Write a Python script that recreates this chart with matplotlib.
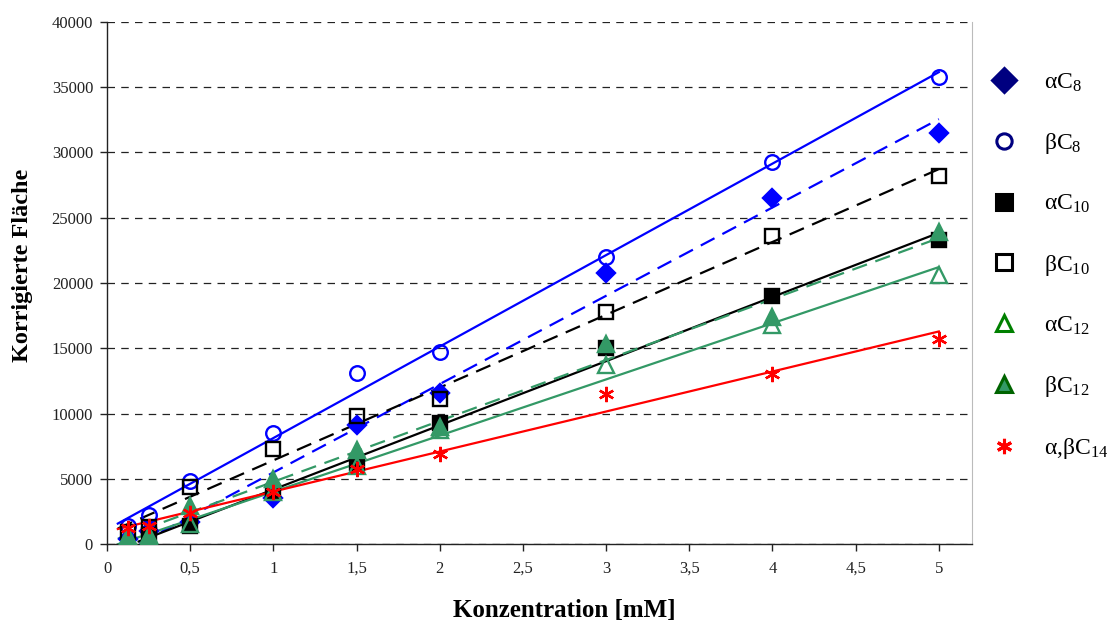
import numpy as np
import matplotlib
matplotlib.use("Agg")
import matplotlib.pyplot as plt
from matplotlib.lines import Line2D
from matplotlib.ticker import FuncFormatter, MultipleLocator

plt.rcParams['font.family'] = ['Liberation Serif', 'DejaVu Serif']
plt.rcParams['mathtext.fontset'] = 'custom'
plt.rcParams['mathtext.rm'] = 'Liberation Serif'
plt.rcParams['mathtext.it'] = 'Liberation Serif:italic'
plt.rcParams['mathtext.bf'] = 'Liberation Serif:bold'

conc = [0.125, 0.25, 0.5, 1, 1.5, 2, 3, 4, 5]
aC8 = [350, 1000, 1700, 3500, 9100, 11600, 20800, 26500, 31500]
bC8 = [1380, 2200, 4800, 8500, 13100, 14700, 22000, 29300, 35800]
aC10 = [np.nan, 700, 1400, 4000, 6200, 9300, 15000, 19000, 23300]
bC10 = [900, 1300, 4400, 7300, 9800, 11100, 17800, 23600, 28200]
aC12 = [300, 500, 1500, 4000, 6000, 8700, 13700, 16800, 20600]
bC12 = [600, 700, 2900, 5000, 7200, 9000, 15300, 17400, 23900]
abC14 = [1200, 1400, 2400, 4000, 5750, 6900, 11500, 13000, 15700]

labels = [r"αC$_{\mathrm{8}}$", r"βC$_{\mathrm{8}}$", r"αC$_{\mathrm{10}}$", r"βC$_{\mathrm{10}}$",
          r"αC$_{\mathrm{12}}$", r"βC$_{\mathrm{12}}$", r"α,βC$_{\mathrm{14}}$"]
yticks = [0, 5000, 10000, 15000, 20000, 25000, 30000, 35000, 40000]

seagreen = '#339966'
dash = (0, (7, 4))
series = [
    # data, marker, plot face, plot edge, line color, line style, legend face, legend edge, ms, legend ms
    (aC8, 'D', '#0000FF', '#0000FF', '#0000FF', dash, '#000080', '#000080', 9, 12),
    (bC8, 'o', 'none', '#0000FF', '#0000FF', '-', 'none', '#000080', 10.5, 11),
    (aC10, 's', '#000000', '#000000', '#000000', '-', '#000000', '#000000', 10.5, 11),
    (bC10, 's', 'none', '#000000', '#000000', dash, 'none', '#000000', 10.5, 11),
    (aC12, '^', 'none', seagreen, seagreen, '-', 'none', '#008000', 11, 12),
    (bC12, '^', seagreen, seagreen, seagreen, dash, seagreen, '#006400', 11, 12),
    (abC14, (6, 2, 0), '#FF0000', '#FF0000', '#FF0000', '-', '#FF0000', '#FF0000', 11, 11),
]

fig = plt.figure(figsize=(11.17, 6.23), dpi=100)
ax = fig.add_axes([0.0958, 0.1268, 0.7745, 0.8379])

x = np.array(conc, dtype=float)
handles = []
for data, mk, fc, ec, lc, ls, lfc, lec, ms, lms in series:
    y = np.array(data, dtype=float)
    m = ~np.isnan(y)
    k, b = np.polyfit(x[m], y[m], 1)
    xs = np.array([x[m].min() - 0.06, x[m].max()])
    ax.plot(xs, k * xs + b, color=lc, linestyle=ls, lw=1.6, zorder=2)
    ax.plot(x[m], y[m], linestyle='none', marker=mk, ms=ms, markerfacecolor=fc,
            markeredgecolor=ec, markeredgewidth=1.7, zorder=3)
    handles.append(Line2D([], [], linestyle='none', marker=mk, ms=lms, markerfacecolor=lfc,
                          markeredgecolor=lec, markeredgewidth=2.2))

ax.set_xlim(0, 5.2)
ax.set_ylim(0, 40000)
ax.xaxis.set_major_locator(MultipleLocator(0.5))
ax.xaxis.set_major_formatter(FuncFormatter(lambda v, p: ('%g' % v).replace('.', ',')))
ax.set_yticks(yticks)
ax.yaxis.grid(True, color='#222222', linestyle=(0, (6, 5)), lw=0.9)
ax.set_axisbelow(True)
ax.spines['top'].set_visible(False)
ax.spines['right'].set_color('#bbbbbb')
ax.spines['right'].set_linewidth(0.8)
for s in ['left', 'bottom']:
    ax.spines[s].set_linewidth(1.0)
    ax.spines[s].set_color('#222222')
ax.tick_params(axis='both', direction='out', length=5, width=1, labelsize=12, colors='#222222')
ax.tick_params(axis='y', pad=5)
ax.tick_params(axis='x', pad=7)

ax.set_xlabel('Konzentration [mM]', fontsize=18, fontweight='bold')
ax.xaxis.set_label_coords(0.529, -0.105)
ax.set_ylabel('Korrigierte Fläche', fontsize=17.5, fontweight='bold')
ax.yaxis.set_label_coords(-0.085, 0.533)

fig.legend(handles, labels, loc='upper left', bbox_to_anchor=(0.878, 0.90),
           frameon=False, fontsize=17, labelspacing=1.57, handletextpad=1.1,
           handlelength=1.2, borderaxespad=0)

fig.savefig('out.png', dpi=100)
